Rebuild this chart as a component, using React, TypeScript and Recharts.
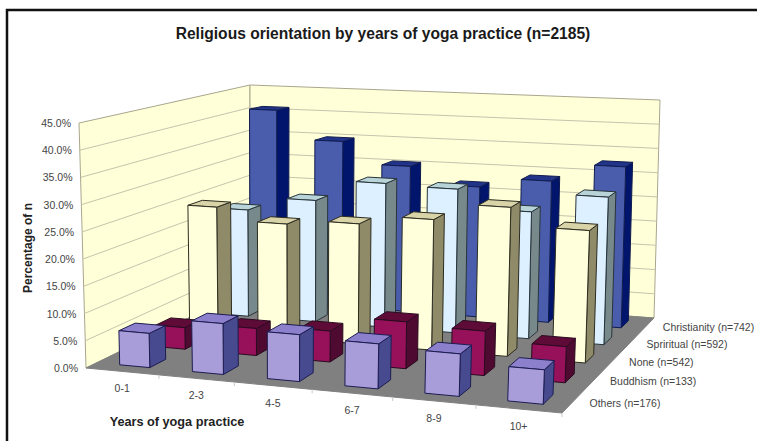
import React from 'react';
import { ComposedChart, Bar, XAxis, YAxis } from 'recharts';

const categories = ['0-1', '2-3', '4-5', '6-7', '8-9', '10+'];
const others = [6.3, 9.3, 8.5, 8.1, 7.6, 6.1];
const buddhism = [4.1, 5.1, 5.8, 8.7, 8.2, 6.6];
const none = [24.7, 22.3, 23.3, 25.1, 28.4, 25.0];
const spiritual = [21.8, 24.6, 28.9, 28.6, 25.0, 28.8];
const christianity = [40.8, 34.8, 30.3, 26.8, 28.8, 32.5];
const yTicks = [0, 5, 10, 15, 20, 25, 30, 35, 40, 45];
const seriesLabels = ['Others (n=176)', 'Buddhism (n=133)', 'None (n=542)', 'Spriritual (n=592)', 'Christianity (n=742)'];

const rows = categories.map((name, i) => ({
  name,
  others: others[i],
  buddhism: buddhism[i],
  none: none[i],
  spiritual: spiritual[i],
  christianity: christianity[i],
}));

const W = 757;
const H = 441;
const PLOT_LEFT = 86;
const PLOT_WIDTH = 476;
const PLOT_TOP = 123;
const PLOT_HEIGHT = 245;
const X_AXIS_HEIGHT = 30;
const Y_MAX = 45;
const FONT = '"Liberation Sans", Arial, sans-serif';

// Floor corners of the 3D box: front-left, front-right, back-right, back-left.
const P00 = [86, 368];
const P10 = [562, 413];
const P11 = [654, 318];
const P01 = [250, 288];

// Perspective map from floor coordinates (u along years, v into depth) to the page.
const dx1 = P10[0] - P11[0];
const dx2 = P01[0] - P11[0];
const sx = P00[0] - P10[0] + P11[0] - P01[0];
const dy1 = P10[1] - P11[1];
const dy2 = P01[1] - P11[1];
const sy = P00[1] - P10[1] + P11[1] - P01[1];
const den = dx1 * dy2 - dx2 * dy1;
const G = (sx * dy2 - dx2 * sy) / den;
const K = (dx1 * sy - sx * dy1) / den;
const A = P10[0] - P00[0] + G * P10[0];
const B = P01[0] - P00[0] + K * P01[0];
const D = P10[1] - P00[1] + G * P10[1];
const E = P01[1] - P00[1] + K * P01[1];

const bilinear = (u: number, v: number, a: number, b: number, c: number, d: number) =>
  a * (1 - u) * (1 - v) + b * u * (1 - v) + c * (1 - u) * v + d * u * v;

function project(u: number, v: number, val: number): [number, number] {
  const w = 1 + G * u + K * v;
  const fx = (P00[0] + A * u + B * v) / w;
  const fy = (P00[1] + D * u + E * v) / w;
  const rise = bilinear(u, v, 245 / 45, 5.7, 203 / 45, 218 / 45);
  const lean = bilinear(u, v, -7 / 45, 10 / 45, 0, 6 / 45);
  return [fx + lean * val, fy - rise * val];
}

const pts = (list: [number, number][]) => list.map((p) => p.map((n) => n.toFixed(1)).join(',')).join(' ');

type Palette = { front: string; side: string; top: string; edge: string };

// Series colours, front row first.
const palettes: Palette[] = [
  { front: '#A99DD9', side: '#474A8E', top: '#8C80CC', edge: '#1C1C50' },
  { front: '#96105A', side: '#4E0A30', top: '#5F0B38', edge: '#2A0A20' },
  { front: '#FFFFDC', side: '#8F8A68', top: '#D9D3A8', edge: '#2C2C20' },
  { front: '#DDF0FF', side: '#78898C', top: '#B8D4D8', edge: '#28343A' },
  { front: '#4A5CAC', side: '#00156B', top: '#22348A', edge: '#101C50' },
];

// Small nudge that fades out towards the last year group.
const barShift = (u: number) => 0.005 * (1 - u);

const makeBar = (seriesIndex: number) => (props: any) => {
  const { x, width, height } = props;
  const val = (height / PLOT_HEIGHT) * Y_MAX;
  const uLeft = (x - PLOT_LEFT) / PLOT_WIDTH;
  const uRight = (x + width - PLOT_LEFT) / PLOT_WIDTH;
  const u0 = uLeft + barShift(uLeft);
  const u1 = uRight + barShift(uLeft);
  const v0 = (seriesIndex + 0.28) / 5;
  const v1 = (seriesIndex + 0.72) / 5;
  const c = palettes[seriesIndex];
  const fb0 = project(u0, v0, 0);
  const fb1 = project(u1, v0, 0);
  const bb1 = project(u1, v1, 0);
  const ft0 = project(u0, v0, val);
  const ft1 = project(u1, v0, val);
  const bt0 = project(u0, v1, val);
  const bt1 = project(u1, v1, val);
  return (
    <g strokeLinejoin="round">
      <polygon points={pts([fb1, bb1, bt1, ft1])} fill={c.side} stroke={c.edge} strokeWidth={1} />
      <polygon points={pts([ft0, ft1, bt1, bt0])} fill={c.top} stroke={c.edge} strokeWidth={1} />
      <polygon points={pts([fb0, fb1, ft1, ft0])} fill={c.front} stroke={c.edge} strokeWidth={1} />
    </g>
  );
};

const WALL = '#FFFFD8';
const WALL_EDGE = '#A9A68E';
const GRID = '#C6C4AC';

function Scene() {
  return (
    <g>
      <polygon points={pts([project(0, 0, 0), project(0, 1, 0), project(0, 1, Y_MAX), project(0, 0, Y_MAX)])} fill={WALL} stroke={WALL_EDGE} />
      <polygon points={pts([project(0, 1, 0), project(1, 1, 0), project(1, 1, Y_MAX), project(0, 1, Y_MAX)])} fill={WALL} stroke={WALL_EDGE} />
      {yTicks.slice(1, -1).map((t) => (
        <polyline key={t} points={pts([project(0, 0, t), project(0, 1, t), project(1, 1, t)])} fill="none" stroke={GRID} strokeWidth={1} />
      ))}
      <polygon points={pts([project(0, 0, 0), project(1, 0, 0), project(1, 1, 0), project(0, 1, 0)])} fill="#808080" stroke="#808080" />
      {categories.map((_, i) => {
        const [tx, ty] = project((i + 1) / categories.length, 0, 0);
        return <line key={i} x1={tx} y1={ty} x2={tx} y2={ty + 4} stroke="#C8C8C8" />;
      })}
    </g>
  );
}

function Annotations() {
  return (
    <g fontFamily={FONT}>
      <text x={383} y={39} textAnchor="middle" fontSize={15.6} fontWeight="bold" fill="#1a1a1a">
        Religious orientation by years of yoga practice (n=2185)
      </text>
      <text x={0} y={0} transform="translate(32,248) rotate(-90)" textAnchor="middle" fontSize={12} fontWeight="bold" fill="#222">
        Percentage of n
      </text>
      <text x={177} y={426} textAnchor="middle" fontSize={12.7} fontWeight="bold" fill="#222">
        Years of yoga practice
      </text>
      {seriesLabels.map((label, i) => {
        const [lx, ly] = project(1, (i + 0.5) / 5, 0);
        return (
          <text key={label} x={lx + 16.5} y={ly + 5} fontSize={10.5} fill="#444">
            {label}
          </text>
        );
      })}
      <rect x={7} y={10} width={800} height={500} fill="none" stroke="#111" strokeWidth={2.5} />
    </g>
  );
}

const YTick = (props: any) => {
  const { y, payload } = props;
  const [ex] = project(0, 0, payload.value);
  return (
    <text x={ex - 8} y={y + 4} textAnchor="end" fontSize={10.5} fontFamily={FONT} fill="#444">
      {payload.value.toFixed(1)}%
    </text>
  );
};

const XTick = (props: any) => {
  const { x, payload } = props;
  const [tx, ty] = project((x - PLOT_LEFT) / PLOT_WIDTH, 0, 0);
  return (
    <text x={tx} y={ty + 21} textAnchor="middle" fontSize={10.5} fontFamily={FONT} fill="#444">
      {payload.value}
    </text>
  );
};

export default function App() {
  return (
    <div style={{ position: 'absolute', left: 0, top: 0, width: W, height: H, overflow: 'hidden', background: '#fff' }}>
      <ComposedChart
        width={W}
        height={H}
        data={rows}
        margin={{ top: PLOT_TOP, bottom: H - PLOT_TOP - PLOT_HEIGHT - X_AXIS_HEIGHT, left: 0, right: W - PLOT_LEFT - PLOT_WIDTH }}
        barSize={33}
        barGap={-33}
      >
        <Scene />
        <XAxis dataKey="name" height={X_AXIS_HEIGHT} axisLine={false} tickLine={false} tick={<XTick />} interval={0} />
        <YAxis width={PLOT_LEFT} domain={[0, Y_MAX]} ticks={yTicks} axisLine={false} tickLine={false} tick={<YTick />} />
        <Bar dataKey="christianity" shape={makeBar(4)} isAnimationActive={false} />
        <Bar dataKey="spiritual" shape={makeBar(3)} isAnimationActive={false} />
        <Bar dataKey="none" shape={makeBar(2)} isAnimationActive={false} />
        <Bar dataKey="buddhism" shape={makeBar(1)} isAnimationActive={false} />
        <Bar dataKey="others" shape={makeBar(0)} isAnimationActive={false} />
        <Annotations />
      </ComposedChart>
    </div>
  );
}
